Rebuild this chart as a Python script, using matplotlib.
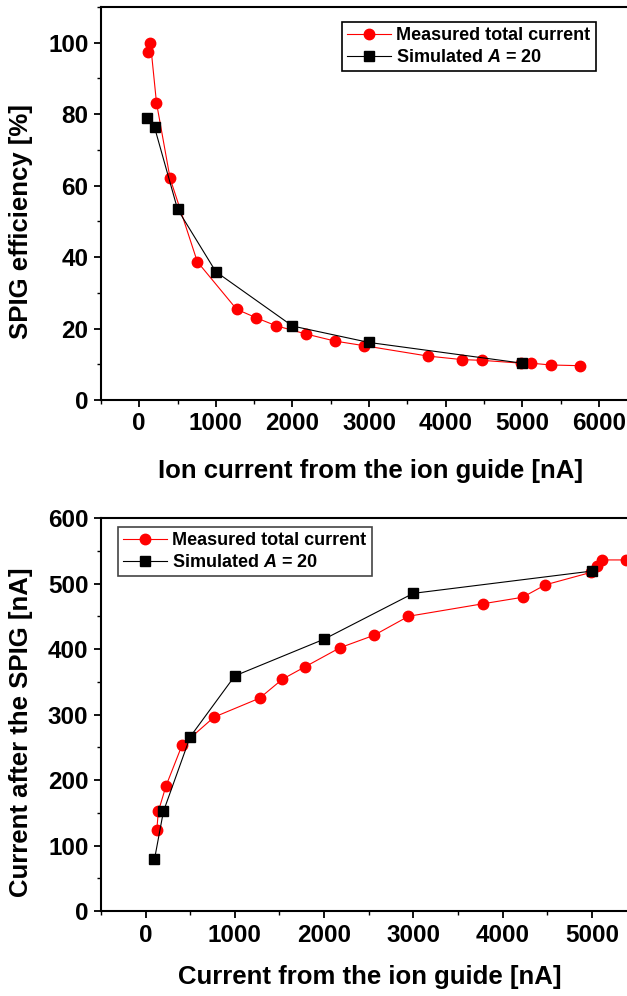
import matplotlib.pyplot as plt
from matplotlib.ticker import MultipleLocator

plt.rcParams['font.family'] = ['Liberation Sans', 'DejaVu Sans']
plt.rcParams['font.weight'] = 'bold'
plt.rcParams['mathtext.fontset'] = 'custom'
plt.rcParams['mathtext.it'] = 'Liberation Sans:bold:italic'

# SPIG efficiency vs. ion current
eff_meas_x = [120, 146, 225, 403, 758, 1271, 1527, 1784, 2171, 2553, 2935,
              3766, 4216, 4473, 4990, 5116, 5372, 5749]
eff_meas_y = [97.5, 100.0, 83.2, 62.0, 38.7, 25.4, 23.0, 20.8, 18.5, 16.5, 15.2,
              12.3, 11.3, 11.1, 10.3, 10.3, 9.8, 9.6]
eff_sim_x = [100, 200, 500, 1000, 2000, 3000, 5000]
eff_sim_y = [79.0, 76.3, 53.4, 35.9, 20.7, 16.1, 10.3]

# current after the SPIG vs. current from the ion guide
out_meas_x = [126, 143, 229, 408, 767, 1278, 1534, 1789, 2179, 2560, 2946,
              3776, 4224, 4480, 4991, 5053, 5116, 5381]
out_meas_y = [124, 152, 191, 253, 296, 325, 354, 373, 402, 421, 450,
              469, 479, 498, 517, 526, 536, 536]
out_sim_x = [100, 200, 500, 1000, 2000, 3000, 5000]
out_sim_y = [79, 152, 266, 359, 415, 485, 519]

LABEL_MEAS = 'Measured total current'
LABEL_SIM = r'Simulated $A$ = 20'

TICK_SIZE = 17.5
LABEL_SIZE = 18.5
LEGEND_SIZE = 13


def style_axes(ax):
    for side in ['left', 'bottom', 'top']:
        ax.spines[side].set_linewidth(1.5)
    ax.spines['right'].set_visible(False)
    ax.tick_params(which='major', direction='out', length=5, width=1.3,
                   pad=4, labelsize=TICK_SIZE, top=False, right=False)
    ax.tick_params(which='minor', direction='out', length=3, width=1.0,
                   top=False, right=False)
    for lab in ax.get_xticklabels() + ax.get_yticklabels():
        lab.set_fontweight('bold')


def draw_series(ax, mx, my, sx, sy):
    ax.plot(mx, my, '-', color='red', lw=0.8, marker='o', ms=7.5,
            mfc='red', mec='red', label=LABEL_MEAS, zorder=3)
    ax.plot(sx, sy, '-', color='black', lw=0.8, marker='s', ms=6.5,
            mfc='black', mec='black', label=LABEL_SIM, zorder=4)


def add_legend(ax, anchor, edge):
    leg = ax.legend(loc='upper left', bbox_to_anchor=anchor,
                    prop={'size': LEGEND_SIZE, 'weight': 'bold'}, frameon=True,
                    fancybox=False, edgecolor=edge, framealpha=1,
                    handlelength=2.4, borderpad=0.3, labelspacing=0.25,
                    handletextpad=0.3, borderaxespad=0)
    leg.get_frame().set_linewidth(1.2)
    return leg


fig = plt.figure(figsize=(6.27, 9.96), dpi=100)

# upper panel
ax1 = fig.add_axes([0.161, 0.5984, 0.843, 0.3946])
draw_series(ax1, eff_meas_x, eff_meas_y, eff_sim_x, eff_sim_y)
ax1.set_xticks(range(0, 7000, 1000))
ax1.xaxis.set_minor_locator(MultipleLocator(500))
ax1.yaxis.set_major_locator(MultipleLocator(20))
ax1.yaxis.set_minor_locator(MultipleLocator(10))
ax1.set_xlim(-500, 6400)
ax1.set_ylim(0, 110)
ax1.set_xlabel('Ion current from the ion guide [nA]', fontsize=LABEL_SIZE,
               fontweight='bold')
ax1.set_ylabel('SPIG efficiency [%]', fontsize=LABEL_SIZE, fontweight='bold')
ax1.xaxis.set_label_coords(0.51, -0.151)
ax1.yaxis.set_label_coords(-0.128, 0.455)
style_axes(ax1)
add_legend(ax1, (0.456, 0.962), 'black')

# lower panel
ax2 = fig.add_axes([0.161, 0.0853, 0.854, 0.3946])
draw_series(ax2, out_meas_x, out_meas_y, out_sim_x, out_sim_y)
ax2.set_xticks(range(0, 6000, 1000))
ax2.xaxis.set_minor_locator(MultipleLocator(500))
ax2.yaxis.set_major_locator(MultipleLocator(100))
ax2.yaxis.set_minor_locator(MultipleLocator(50))
ax2.set_xlim(-500, 5500)
ax2.set_ylim(0, 600)
ax2.set_xlabel('Current from the ion guide [nA]', fontsize=LABEL_SIZE,
               fontweight='bold')
ax2.set_ylabel('Current after the SPIG [nA]', fontsize=LABEL_SIZE,
               fontweight='bold')
ax2.xaxis.set_label_coords(0.502, -0.138)
ax2.yaxis.set_label_coords(-0.126, 0.455)
style_axes(ax2)
add_legend(ax2, (0.032, 0.977), '#444444')

fig.savefig('out.png', dpi=100)
